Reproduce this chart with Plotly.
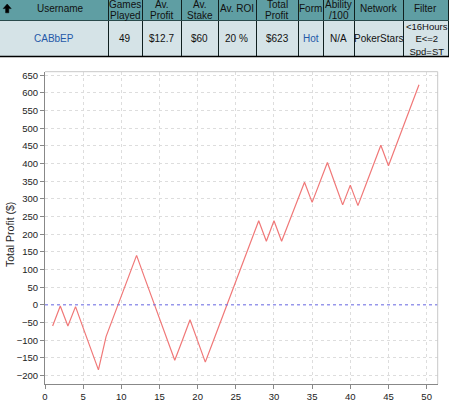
import plotly.graph_objects as go

# ---------------- data ----------------
games = list(range(1, 50))
total_profit = [-60, -3, -60, -5, -65, -125, -184, -90, -32, 25,
                83, 140, 80, 21, -38, -98, -157, -100, -42, -102,
                -162, -105, -48, 9, 66, 124, 181, 238, 180, 238,
                180, 236, 291, 347, 290, 346, 403, 343, 283, 339,
                281, 338, 395, 452, 394, 451, 507, 564, 623]

header_labels = ["Username", "Games<br>Played", "Av.<br>Profit", "Av.<br>Stake", "Av. ROI",
                 "Total<br>Profit", "Form", "Ability<br>/100", "Network", "Filter"]
row_values = ["CABbEP", "49", "$12.7", "$60", "20 %", "$623", "Hot", "N/A", "PokerStars"]
filter_lines = ["&lt;16Hours", "E&lt;=2", "Spd=ST"]
link_columns = ["Username", "Form"]

x_ticks = [0, 5, 10, 15, 20, 25, 30, 35, 40, 45, 50]
y_ticks = list(range(-200, 651, 50))

# ---------------- layout helpers ----------------
W, H = 449, 401
def px(x):
    return x / W
def py(y):
    return 1 - y / H

col_edges = [0, 108, 142, 181, 218, 256, 298, 323, 354, 403, 448]
HEAD_TOP, HEAD_BOT, ROW_BOT = 0, 20, 56
HEAD_BG = "#5f9ea3"
ROW_BG = "#d5e3e7"
LINK = "#2458a8"
FONT = "Liberation Sans"

fig = go.Figure()
fig.add_trace(go.Scatter(x=games, y=total_profit, mode="lines",
                         line=dict(color="#f07878", width=1.2), hoverinfo="skip",
                         showlegend=False))

shapes = []
annotations = []

# table backgrounds
shapes.append(dict(type="rect", xref="paper", yref="paper", x0=px(0), x1=px(449),
                   y0=py(HEAD_BOT), y1=py(HEAD_TOP), fillcolor=HEAD_BG, line_width=0, layer="above"))
shapes.append(dict(type="rect", xref="paper", yref="paper", x0=px(0), x1=px(449),
                   y0=py(ROW_BOT), y1=py(HEAD_BOT), fillcolor=ROW_BG, line_width=0, layer="above"))
# table lines
for e in col_edges[1:]:
    shapes.append(dict(type="line", xref="paper", yref="paper", x0=px(e + 0.5), x1=px(e + 0.5),
                       y0=py(ROW_BOT), y1=py(HEAD_TOP), line=dict(color="#102020", width=1), layer="above"))
shapes.append(dict(type="line", xref="paper", yref="paper", x0=px(0), x1=px(449),
                   y0=py(HEAD_BOT + 0.5), y1=py(HEAD_BOT + 0.5), line=dict(color="#2a4a4c", width=1), layer="above"))
shapes.append(dict(type="line", xref="paper", yref="paper", x0=px(0), x1=px(449),
                   y0=py(ROW_BOT + 0.5), y1=py(ROW_BOT + 0.5), line=dict(color="#000000", width=1.5), layer="above"))

# arrow icon in first header cell
arrow = [(7.2, 4), (11.2, 8.6), (8.8, 8.6), (8.8, 12.8), (5.6, 12.8), (5.6, 8.6), (3.2, 8.6)]
path = "M " + " L ".join(f"{px(a):.5f},{py(b):.5f}" for a, b in arrow) + " Z"
shapes.append(dict(type="path", xref="paper", yref="paper", path=path,
                   fillcolor="#000000", line=dict(color="#000000", width=0.5), layer="above"))

# header texts (two-line headers are set tightly so they fit the short header row)
for i, lab in enumerate(header_labels):
    cx = (col_edges[i] + col_edges[i + 1]) / 2
    if i == 0:
        cx += 6
    lines = lab.split("<br>")
    ys = [8.5] if len(lines) == 1 else [4.6, 15]
    for line, yy in zip(lines, ys):
        annotations.append(dict(xref="paper", yref="paper", x=px(cx), y=py(yy), text=line,
                                showarrow=False, xanchor="center", yanchor="middle",
                                font=dict(family=FONT, size=10, color="#111111")))

# row texts
for i, val in enumerate(row_values):
    cx = (col_edges[i] + col_edges[i + 1]) / 2
    color = LINK if header_labels[i] in link_columns else "#111111"
    annotations.append(dict(xref="paper", yref="paper", x=px(cx), y=py(38.5), text=val,
                            showarrow=False, xanchor="center", yanchor="middle",
                            font=dict(family=FONT, size=10, color=color)))
cx = (col_edges[-2] + col_edges[-1]) / 2
annotations.append(dict(xref="paper", yref="paper", x=px(cx + 1), y=py(39), text="<br>".join(filter_lines),
                        showarrow=False, xanchor="center", yanchor="middle",
                        font=dict(family=FONT, size=9.5, color="#111111")))

# y axis title
annotations.append(dict(xref="paper", yref="paper", x=px(10), y=py(235), text="Total Profit ($)",
                        textangle=-90, showarrow=False, xanchor="center", yanchor="middle",
                        font=dict(family=FONT, size=10.5, color="#222222")))

# zero reference line (dotted blue)
shapes.append(dict(type="line", xref="x domain", yref="y", x0=0, x1=1, y0=0, y1=0,
                   line=dict(color="#7070ee", width=1, dash="dot"), layer="above"))
# top/right plot border
X0, X1, Y0, Y1 = 45, 437.7, 384, 71.7
shapes.append(dict(type="line", xref="paper", yref="paper", x0=px(X0), x1=px(X1), y0=py(Y1), y1=py(Y1),
                   line=dict(color="#c8c8c8", width=1)))
shapes.append(dict(type="line", xref="paper", yref="paper", x0=px(X1), x1=px(X1), y0=py(Y0), y1=py(Y1),
                   line=dict(color="#c8c8c8", width=1)))

tickfont = dict(family=FONT, size=9.5, color="#222222")
fig.update_layout(
    width=W, height=H,
    margin=dict(l=0, r=0, t=0, b=0),
    paper_bgcolor="white", plot_bgcolor="white",
    shapes=shapes, annotations=annotations,
    xaxis=dict(domain=[px(X0), px(X1)], range=[0, 51.45], tickvals=x_ticks,
               ticks="outside", ticklen=4, tickcolor="#888888", tickfont=tickfont,
               showline=True, linecolor="#888888", linewidth=1,
               showgrid=True, gridcolor="#dddddd", griddash="dot", gridwidth=1,
               zeroline=False, automargin=False),
    yaxis=dict(domain=[py(Y0), py(Y1)], range=[-224, 660], tickvals=y_ticks,
               ticks="outside", ticklen=4, tickcolor="#888888", tickfont=tickfont,
               showline=True, linecolor="#888888", linewidth=1,
               showgrid=True, gridcolor="#dddddd", griddash="dot", gridwidth=1,
               zeroline=False, automargin=False),
)

fig.write_html("out.html", config={"displayModeBar": False},
               post_script="document.body.style.margin='0px';document.body.style.overflow='hidden';")
